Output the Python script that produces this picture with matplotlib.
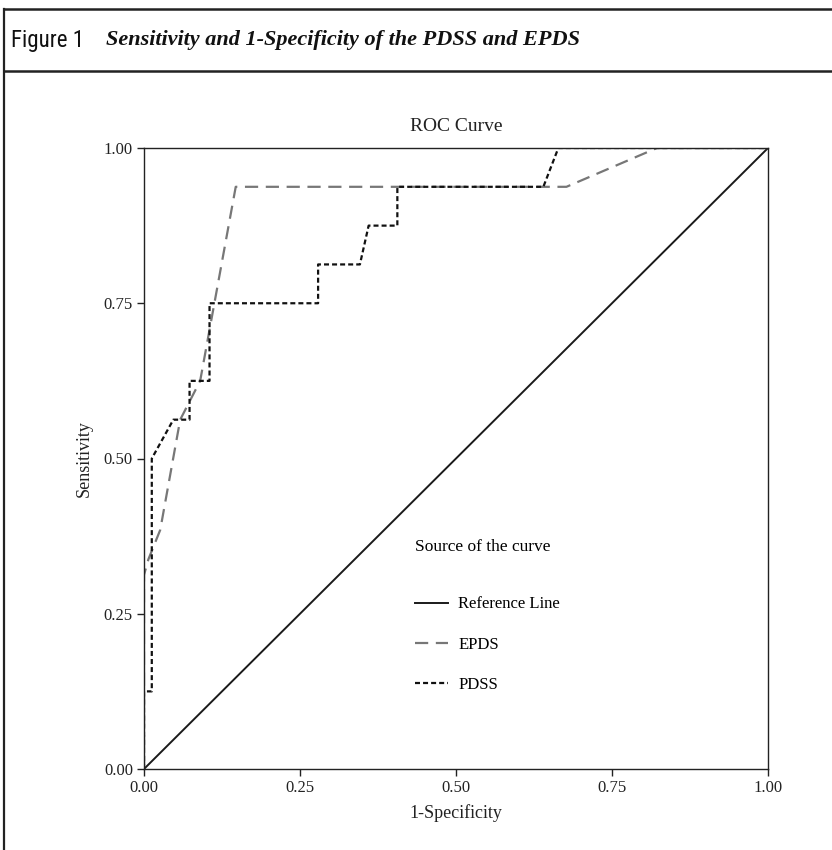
import matplotlib.pyplot as plt
from matplotlib.lines import Line2D

# ROC points (1-specificity, sensitivity)
epds_fpr = [0.0, 0.0, 0.007, 0.026, 0.058, 0.090, 0.147, 0.677, 0.822, 1.0]
epds_tpr = [0.0, 0.3125, 0.3375, 0.385, 0.5625, 0.625, 0.9375, 0.9375, 1.0, 1.0]

pdss_fpr = [0.0, 0.0, 0.0125, 0.0125, 0.047, 0.073, 0.073, 0.105, 0.105, 0.279,
            0.279, 0.346, 0.360, 0.406, 0.406, 0.640, 0.664, 1.0]
pdss_tpr = [0.0, 0.125, 0.125, 0.5, 0.5625, 0.5625, 0.625, 0.625, 0.75, 0.75,
            0.8125, 0.8125, 0.875, 0.875, 0.9375, 0.9375, 1.0, 1.0]

ref_xy = [0.0, 1.0]
ticks = [0.0, 0.25, 0.5, 0.75, 1.0]
tick_labels = ["0.00", "0.25", "0.50", "0.75", "1.00"]

plt.rcParams['lines.scale_dashes'] = False
serif = ['Liberation Serif', 'DejaVu Serif']

fig = plt.figure(figsize=(8.32, 8.5), dpi=100)

# frame around the figure: left edge, top edge and the header separator
W, H = 832.0, 850.0
fig.add_artist(Line2D([4 / W, 4 / W], [0, 1 - 9 / H], color='#222222', lw=1.6))
fig.add_artist(Line2D([4 / W, 1], [1 - 9 / H, 1 - 9 / H], color='#222222', lw=1.8))
fig.add_artist(Line2D([4 / W, 1], [1 - 71 / H, 1 - 71 / H], color='#222222', lw=1.8))

fig.text(11 / W, 1 - 40 / H, "Figure 1", fontsize=16.5, va='center',
         family=['Roboto Condensed', 'Liberation Sans Narrow', 'DejaVu Sans'],
         color='#111111')
fig.text(106 / W, 1 - 40 / H, "Sensitivity and 1-Specificity of the PDSS and EPDS",
         fontsize=16, va='center', family=serif, style='italic', weight='bold',
         color='#111111')

ax = fig.add_axes([144 / W, 1 - 769 / H, 624 / W, 621 / H])

ax.plot(ref_xy, ref_xy, color='#1a1a1a', lw=1.4, label='Reference Line')
ax.plot(epds_fpr, epds_tpr, color='#777777', lw=1.6, dashes=(9.5, 5.5), label='EPDS')
ax.plot(pdss_fpr, pdss_tpr, color='#111111', lw=1.6, dashes=(3.6, 2.2), label='PDSS')

ax.set_xlim(0, 1)
ax.set_ylim(0, 1)
ax.set_xticks(ticks)
ax.set_xticklabels(tick_labels)
ax.set_yticks(ticks)
ax.set_yticklabels(tick_labels)
ax.tick_params(direction='out', length=5, width=1, colors='#222222', labelsize=12, pad=3)
for lab in ax.get_xticklabels() + ax.get_yticklabels():
    lab.set_family(serif)
for sp in ax.spines.values():
    sp.set_linewidth(1.0)
    sp.set_color('#222222')

ax.set_title("ROC Curve", family=serif, fontsize=14, pad=12, color='#222222')
ax.set_xlabel("1-Specificity", family=serif, fontsize=13, labelpad=6, color='#222222')
ax.set_ylabel("Sensitivity", family=serif, fontsize=13, labelpad=8, color='#222222')

leg = ax.legend(loc='upper left', bbox_to_anchor=(0.41, 0.395), frameon=False,
                title="Source of the curve", prop={'family': serif, 'size': 12},
                handlelength=2.0, labelspacing=1.45, handletextpad=0.6,
                alignment='left')
leg.get_title().set_family(serif)
leg.get_title().set_fontsize(12.5)
leg._legend_box.sep = 30

fig.savefig("out.png", dpi=100)
